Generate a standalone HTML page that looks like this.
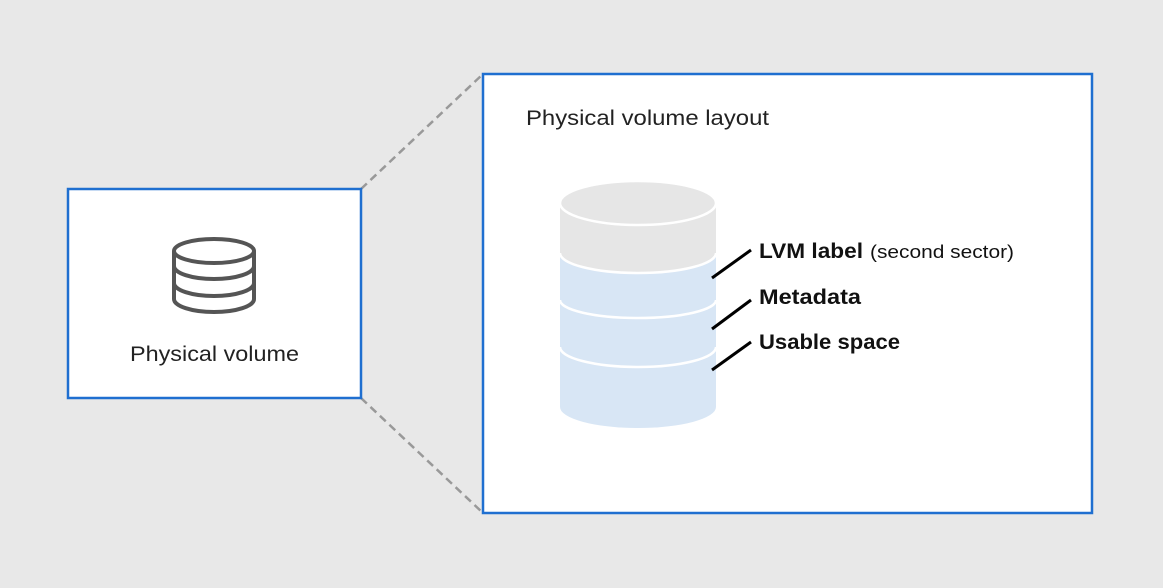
<!DOCTYPE html>
<html><head><style>
body{margin:0;width:1163px;height:588px;background:#e8e8e8;overflow:hidden;font-family:"Liberation Sans",sans-serif;}
</style></head><body>
<svg width="1163" height="588" xmlns="http://www.w3.org/2000/svg" style="position:absolute;left:0;top:0">
<line x1="361" y1="189" x2="483" y2="74" stroke="#999" stroke-width="2.5" stroke-dasharray="8,5"/>
<line x1="361" y1="398" x2="483" y2="513" stroke="#999" stroke-width="2.5" stroke-dasharray="8,5"/>
<rect x="68" y="189" width="293" height="209" fill="#fff" stroke="#1f6fd0" stroke-width="2.5"/>
<rect x="483" y="74" width="609" height="439" fill="#fff" stroke="#1f6fd0" stroke-width="2.5"/>
<g fill="none" stroke="#555" stroke-width="4">
<ellipse cx="214" cy="251" rx="40" ry="12"/>
<path d="M174 251 V299 A40 13 0 0 0 254 299 V251"/>
<path d="M174 266 A40 13 0 0 0 254 266"/>
<path d="M174 283 A40 13 0 0 0 254 283"/>
</g>
<text x="130" y="361" font-size="21" fill="#222" textLength="169" lengthAdjust="spacingAndGlyphs">Physical volume</text>
<text x="526" y="125" font-size="21" fill="#222" textLength="243" lengthAdjust="spacingAndGlyphs">Physical volume layout</text>
<path d="M560 203 V407 A78 21 0 0 0 716 407 V203 Z" fill="#d8e6f5"/>
<path d="M560 203 V253 A78 20 0 0 0 716 253 V203 Z" fill="#e6e6e6"/>
<ellipse cx="638" cy="203" rx="78" ry="22" fill="#e6e6e6" stroke="#fff" stroke-width="2.5"/>
<g fill="none" stroke="#fff" stroke-width="2.5">
<path d="M560 253 A78 20 0 0 0 716 253"/>
<path d="M560 300 A78 18 0 0 0 716 300"/>
<path d="M560 347 A78 20 0 0 0 716 347"/>
</g>
<g stroke="#000" stroke-width="3">
<line x1="712" y1="278" x2="751" y2="250"/>
<line x1="712" y1="329" x2="751" y2="300"/>
<line x1="712" y1="370" x2="751" y2="342"/>
</g>
<text x="759" y="258" font-size="21" font-weight="bold" fill="#111" textLength="104" lengthAdjust="spacingAndGlyphs">LVM label</text>
<text x="870" y="258" font-size="18" fill="#111" textLength="144" lengthAdjust="spacingAndGlyphs">(second sector)</text>
<text x="759" y="304" font-size="21" font-weight="bold" fill="#111" textLength="102" lengthAdjust="spacingAndGlyphs">Metadata</text>
<text x="759" y="349" font-size="21" font-weight="bold" fill="#111" textLength="141" lengthAdjust="spacingAndGlyphs">Usable space</text>
</svg>
</body></html>
